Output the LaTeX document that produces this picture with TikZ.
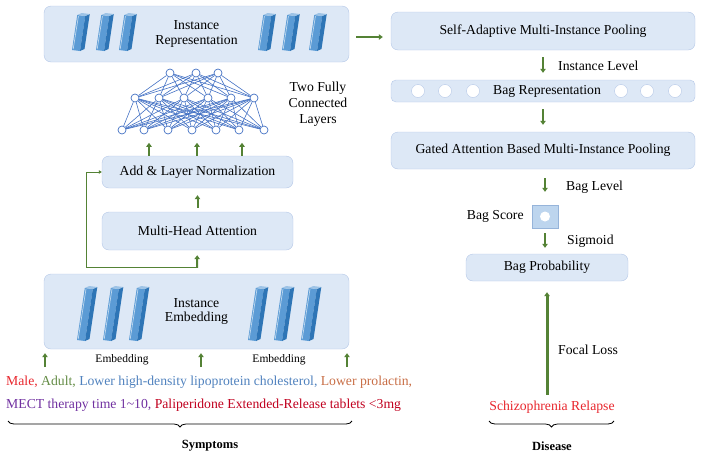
\documentclass[tikz,border=0pt]{standalone}
\usepackage{fontspec}
\setmainfont{Liberation Serif}
\usepackage{tikz}
\usetikzlibrary{arrows.meta, positioning, decorations.pathreplacing}
\definecolor{boxfill}{RGB}{221,232,246}
\definecolor{boxline}{RGB}{180,199,231}
\definecolor{arrowgreen}{RGB}{84,130,53}
\definecolor{netblue}{RGB}{68,114,196}
\definecolor{scorefill}{RGB}{189,213,238}
\definecolor{scoreline}{RGB}{150,180,218}
\definecolor{prfront}{RGB}{91,155,213}
\definecolor{prside}{RGB}{46,117,182}
\definecolor{prtop}{RGB}{157,195,230}
\definecolor{symred}{RGB}{232,38,45}
\definecolor{symgreen}{RGB}{100,140,70}
\definecolor{symblue}{RGB}{80,130,190}
\definecolor{symorange}{RGB}{200,110,70}
\definecolor{sympurple}{RGB}{112,48,160}
\definecolor{symdarkred}{RGB}{192,0,30}
\tikzset{
  box/.style={rectangle, rounded corners=7pt, draw=boxline, fill=boxfill, font=\fontsize{13.7}{15.5}\selectfont, align=center, inner sep=0pt},
  arrow/.style={-{Triangle[length=4pt,width=5.5pt]}, line width=2pt, color=arrowgreen},
  resid/.style={-{Triangle[length=3pt,width=3.5pt]}, line width=0.9pt, color=arrowgreen},
  neuron/.style={circle, draw=netblue, fill=white, line width=0.7pt, minimum size=8pt, inner sep=0pt},
  bagcirc/.style={circle, draw=boxline, fill=white, minimum size=13pt, inner sep=0pt},
  lbl/.style={font=\fontsize{13.7}{16}\selectfont, inner sep=0pt},
  smalllbl/.style={font=\fontsize{11.5}{13}\selectfont, inner sep=0pt},
  symline/.style={font=\fontsize{13.7}{16}\selectfont, anchor=west, inner sep=0pt},
  title/.style={font=\fontsize{12.5}{14}\selectfont\bfseries, inner sep=0pt},
  brace/.style={decorate, decoration={brace, amplitude=6pt}, line width=0.8pt},
}
% slanted 3d bar: x of bottom left, y of top, height
\newcommand{\drawprism}[3]{%
  \fill[prfront] (#1,#2+#3) -- ++(8,1) -- ++(0.15*#3,-#3) -- ++(-8,-1) -- cycle;
  \fill[prside] (#1+8,#2+#3+1) -- ++(4.5,-2) -- ++(0.15*#3,-#3) -- ++(-4.5,2) -- cycle;
  \fill[prtop] (#1+0.15*#3,#2) -- ++(8,1) -- ++(4.5,-2) -- ++(-8,-1) -- cycle;
  \draw[white!60!prfront, line width=0.7pt] (#1+1.2,#2+#3-1) -- ++(0.15*#3,-#3+2);
}

\begin{document}
\begin{tikzpicture}[x=1pt, y=-1pt]
  \useasboundingbox (0,0) rectangle (703,461);

  % left column
  \node[box, minimum width=305pt, minimum height=56pt] (inrep) at (196.5,34) {Instance\\[-1pt]Representation};
  \node[box, minimum width=191pt, minimum height=32pt] (add) at (197.5,172) {Add \& Layer Normalization};
  \node[box, minimum width=191pt, minimum height=38pt] (mha) at (197.5,231) {Multi-Head Attention};
  \node[box, minimum width=305pt, minimum height=75pt] (inemb) at (196.5,311.5) {Instance\\[-1pt]Embedding};

  \foreach \x in {72,96,119,258,282,309} \drawprism{\x}{15}{35};
  \foreach \x in {77,103,129,248,274,301} \drawprism{\x}{288}{52};

  % fully connected layers
  \foreach \x [count=\i] in {170,196,218} \node[neuron] (t\i) at (\x,73) {};
  \foreach \x [count=\i] in {135,159,184,208,231,254} \node[neuron] (m\i) at (\x,98) {};
  \foreach \x [count=\i] in {122,144,168,192,216,239,264} \node[neuron] (b\i) at (\x,130) {};
  \foreach \i in {1,...,3}
    \foreach \j in {1,...,6} \draw[netblue, line width=0.6pt] (t\i) -- (m\j);
  \foreach \i in {1,...,6}
    \foreach \j in {1,...,7} \draw[netblue, line width=0.6pt] (m\i) -- (b\j);
  \node[lbl, align=center] (fclabel) at (318,104) {Two Fully\\Connected\\Layers};

  \foreach \x in {149,197,242} \draw[arrow] (add.north -| \x,0) -- ++(0,-13);
  \draw[arrow, shorten <=4pt, shorten >=7pt] (mha) -- (add);
  \draw[arrow, shorten <=6pt, shorten >=5pt] (inemb) -- (mha);
  \coordinate (res) at ([yshift=6pt]inemb.north);
  \draw[resid] (res) -- ++(-110,0) |- (add.west);

  \foreach \x in {45,201,347} \draw[arrow, shorten >=4pt] (\x,367) -- (inemb.south -| \x,0);
  \node[smalllbl] (emb1) at (122,360) {Embedding};
  \node[smalllbl] (emb2) at (279,360) {Embedding};

  \node[symline] (sym1) at (6,382) {\color{symred}Male, \color{symgreen}Adult, \color{symblue}Lower high-density lipoprotein cholesterol, \color{symorange}Lower prolactin,};
  \node[symline] (sym2) at (6,405) {\color{sympurple}MECT therapy time 1\textasciitilde10, \color{symdarkred}Paliperidone Extended-Release tablets <3mg};
  \draw[brace] (352,421) -- (8,421);
  \node[title] (symptoms) at (210,446) {Symptoms};

  % right column
  \node[box, minimum width=304pt, minimum height=38pt] (selfpool) at (543,31) {Self-Adaptive Multi-Instance Pooling};
  \node[box, minimum width=304pt, minimum height=22pt, rounded corners=5pt] (bagrep) at (543,91) {\hspace{8pt}Bag Representation};
  \foreach \x in {418,445,473,621,647,675} \node[bagcirc] (bc\x) at (\x,91) {};
  \node[box, minimum width=304pt, minimum height=37pt] (gated) at (543,150.5) {Gated Attention Based Multi-Instance Pooling};
  \node[rectangle, draw=scoreline, fill=scorefill, minimum width=26pt, minimum height=23pt] (bagscore) at (545,216.5) {};
  \node[circle, fill=white, minimum size=10pt, inner sep=0pt] (scoredot) at (bagscore) {};
  \node[lbl, left=8pt of bagscore] (scorelabel) {Bag Score};
  \node[box, minimum width=162pt, minimum height=27pt] (bagprob) at (547,267.5) {Bag Probability};
  \node[lbl, text=symred] (relapse) at (552,407) {Schizophrenia Relapse};
  \draw[brace] (614,421) -- (489,421);
  \node[title] (disease) at (552,446) {Disease};

  \draw[arrow, shorten <=7pt, shorten >=8pt] (inrep.east) ++(0,3) -- (selfpool.west |- 0,37);
  \draw[arrow, shorten <=7pt, shorten >=7pt] (selfpool) -- (bagrep);
  \draw[arrow, shorten <=7pt, shorten >=7pt] (bagrep) -- (gated);
  \draw[arrow, shorten <=9pt, shorten >=13pt] (gated.south -| bagscore) -- (bagscore.north);
  \draw[arrow, shorten <=5pt, shorten >=6pt] (bagscore) -- (bagprob.north -| bagscore);
  \draw[arrow, line width=3pt, shorten <=6pt, shorten >=11pt] (bagprob.south |- relapse.north) -- (bagprob.south);

  \node[lbl, anchor=west] (instlevel) at (558,66) {Instance Level};
  \node[lbl, anchor=west] (baglevel) at (566,187) {Bag Level};
  \node[lbl, anchor=west] (sigmoid) at (567,241) {Sigmoid};
  \node[lbl, anchor=west] (focal) at (558,350) {Focal Loss};
\end{tikzpicture}
\end{document}
